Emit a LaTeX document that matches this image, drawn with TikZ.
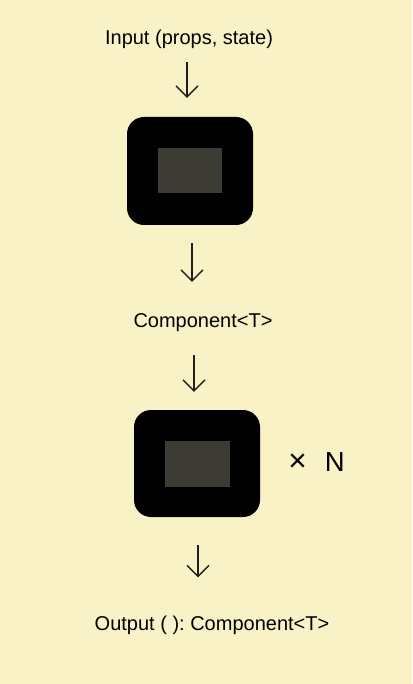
\documentclass[tikz,border=0pt]{standalone}
\usepackage{fontspec}
\setmainfont{Liberation Sans}
\usepackage{xcolor}
\usetikzlibrary{arrows.meta}

\definecolor{paper}{HTML}{F9F2C7}
\definecolor{screen}{HTML}{3C3B34}
\definecolor{ink}{HTML}{1E1E1E}

\tikzset{
	lbl/.style={inner sep=0pt, anchor=base, font=\fontsize{20pt}{24pt}\selectfont\frenchspacing},
	frame/.style={fill=black, rounded corners=17pt, inner sep=0pt, minimum width=126pt},
	panel/.style={fill=screen, inner sep=0pt},
	flow/.style={draw=ink, line width=1.4pt, -{Straight Barb[length=11pt, width=22pt, line width=1.4pt]}}
}

\begin{document}
\begin{tikzpicture}[x=1pt, y=-1pt]
				% Background and margins:
				\fill[paper] (0, 0) rectangle (412, 684);
				\useasboundingbox (0, 0) rectangle (412, 684);
				% Texts:
				\node[lbl] (input) at (189, 45){Input (props, state)};
				\node[lbl] (comp) at (203, 327){Component<T>};
				\node[lbl] (output) at (212, 630){Output ( ): Component<T>};
				\node[lbl, font=\fontsize{27.5pt}{30pt}\selectfont] (times) at (316.5, 471){\scalebox{1.15}{×}\hspace{18pt}N};
				% Boxes:
				\node[frame, minimum height=108pt] (box1) at (190, 171){};
				\node[panel, minimum width=64pt, minimum height=45pt] (box1in) at (box1.center){};
				\node[frame, minimum height=107pt] (box2) at (197, 463.5){};
				\node[panel, minimum width=65pt, minimum height=46pt] (box2in) at ([xshift=0.5pt]box2.center){};
				% Arrows:
				\draw[flow, shorten <=13pt, shorten >=19pt] ([xshift=-2pt]input.south) -- ([xshift=-3pt]box1.north);
				\draw[flow, shorten <=18pt, shorten >=31pt] ([xshift=2pt]box1.south) -- ([xshift=-11pt]comp.north);
				\draw[flow, shorten <=24pt, shorten >=18pt] ([xshift=-9pt]comp.south) -- ([xshift=-3pt]box2.north);
				\draw[flow, shorten <=28pt, shorten >=38pt] ([xshift=1pt]box2.south) -- ([xshift=-14pt]output.north);
			\end{tikzpicture}
\end{document}
